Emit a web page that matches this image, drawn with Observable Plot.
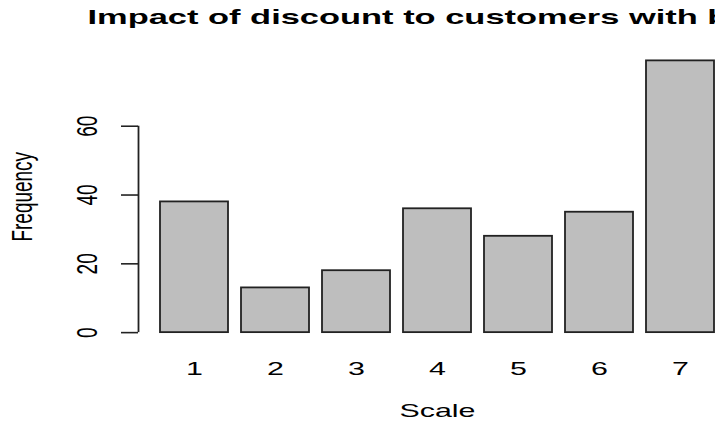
<!DOCTYPE html>
<html>
<head>
<meta charset="utf-8">
<script src="https://cdn.jsdelivr.net/npm/d3@7"></script>
<script src="https://cdn.jsdelivr.net/npm/@observablehq/plot@0.6"></script>
<style>
  html, body { margin: 0; padding: 0; background: #fff; }
  #chart svg { display: block; overflow: hidden; }
</style>
</head>
<body>
<div id="chart"></div>
<script>
const categories = ["1", "2", "3", "4", "5", "6", "7"];
const frequency = [38, 13, 18, 36, 28, 35, 79];
const yTicks = [0, 20, 40, 60];
const titleText = "Impact of discount to customers with b";
const xLabel = "Scale";
const yLabel = "Frequency";

const data = categories.map((c, i) => ({scale: c, freq: frequency[i]}));

const W = 715, H = 423;
const mL = 138, mR = -21, mT = 49.5, mB = 80;
const ymax = d3.max(frequency);
const ext = ymax * 0.04;
const frameCenterX = (mL + W - mR) / 2;
const font = "'Liberation Sans', Arial, Helvetica, sans-serif";

const plot = Plot.plot({
  width: W,
  height: H,
  marginLeft: mL,
  marginRight: mR,
  marginTop: mT,
  marginBottom: mB,
  style: {fontFamily: font, fontSize: "19px", background: "#fff", color: "#000"},
  x: {domain: categories, range: [mL, W - mR], paddingInner: 0.2 / 1.2, paddingOuter: 0.328 / 1.2, align: 0.5, axis: null},
  y: {domain: [-ext, ymax + ext]},
  marks: [
    Plot.barY(data, {x: "scale", y: "freq", fill: "#bebebe", stroke: "#222", strokeWidth: 1.8}),
    Plot.axisY(yTicks, {tickSize: 17, tickFormat: () => "", stroke: "#222", strokeWidth: 1.6, label: null}),
    Plot.ruleX([0], {x: null, y1: yTicks[0], y2: yTicks[yTicks.length - 1], dx: mL - frameCenterX, stroke: "#222", strokeWidth: 1.8}),
    Plot.text(yTicks, {y: d => d, text: d => String(d), frameAnchor: "left", textAnchor: "middle", lineAnchor: "middle", rotate: -90, dx: -51, fill: "#000"}),
    Plot.text(categories, {x: d => d, text: d => d, frameAnchor: "bottom", textAnchor: "middle", lineAnchor: "middle", dy: 25, fill: "#000"}),
    Plot.text([xLabel], {text: d => d, frameAnchor: "bottom", textAnchor: "middle", lineAnchor: "middle", dy: 67, fill: "#000"}),
    Plot.text([yLabel], {text: d => d, frameAnchor: "left", textAnchor: "middle", lineAnchor: "middle", rotate: -90, dx: -116, fill: "#000"}),
    Plot.text([titleText], {text: d => d, frameAnchor: "top-left", textAnchor: "start", lineAnchor: "middle", dx: -51, dy: -33,
      fontWeight: "bold", fontSize: 21, fill: "#000"})
  ]
});

// The reference raster is stretched horizontally; widen glyphs around their anchors.
d3.select(plot).selectAll("text").each(function () {
  const el = this;
  const isTitle = (el.textContent || "").startsWith("Impact");
  const s = isTitle ? 1.64 : 1.6;
  const t = el.getAttribute("transform") || "";
  const m = t.match(/^\s*(translate\([^)]*\))(.*)$/);
  if (m) {
    el.setAttribute("transform", `${m[1]} scale(${s},1)${m[2]}`);
  } else {
    const x = +el.getAttribute("x") || 0, y = +el.getAttribute("y") || 0;
    el.removeAttribute("x"); el.removeAttribute("y");
    el.setAttribute("transform", `translate(${x},${y}) scale(${s},1) ${t}`);
  }
});

document.getElementById("chart").appendChild(plot);
</script>
</body>
</html>
